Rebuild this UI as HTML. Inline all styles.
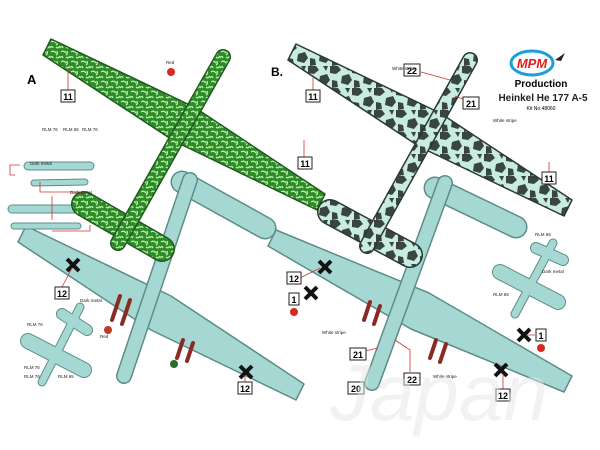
<!DOCTYPE html>
<html><head><style>
html,body{margin:0;padding:0;background:#fff}
svg{display:block}
text{font-family:"Liberation Sans",sans-serif}
</style></head><body>
<svg width="600" height="450" viewBox="0 0 600 450">
<defs>
<pattern id="grn" width="10" height="10" patternUnits="userSpaceOnUse">
<rect width="10" height="10" fill="#2f8a2a"/>
<path d="M1 2 q3 -2 5 1 M6 7 q2 2 4 -1 M0 8 q2 -3 3 0 M7 1 q1 3 -1 4" stroke="#b9f0a8" stroke-width="1.3" fill="none"/>
</pattern>
<pattern id="cam" width="22" height="22" patternUnits="userSpaceOnUse">
<rect width="22" height="22" fill="#c8ebe2"/>
<path d="M0 0 h8 l3 4 -5 4 -6 -1z M12 10 l7 -2 3 6 -4 5 -7 -2z M2 14 l5 1 1 6 -6 1z M15 0 h5 l-2 5z" fill="#38463f"/>
</pattern>
</defs>
<g stroke-linecap="round" stroke-linejoin="round">
<!-- light plane left -->
<g>
<polygon points="26,226 171,296 304,384 296,400 151,330 18,242" fill="#a6d8d3" stroke="#5c8c88" stroke-width="1.5"/>
<line x1="182" y1="182" x2="265" y2="228" stroke="#5c8c88" stroke-width="23"/>
<line x1="182" y1="182" x2="265" y2="228" stroke="#a6d8d3" stroke-width="20"/>
<line x1="190" y1="180" x2="124" y2="376" stroke="#5c8c88" stroke-width="16"/>
<line x1="190" y1="180" x2="124" y2="376" stroke="#a6d8d3" stroke-width="13"/>
<line x1="120" y1="296" x2="112" y2="320" stroke="#8a2a22" stroke-width="4"/>
<line x1="130" y1="300" x2="122" y2="324" stroke="#8a2a22" stroke-width="4"/>
<circle cx="108" cy="330" r="4" fill="#c0392b"/>
<line x1="183" y1="340" x2="177" y2="358" stroke="#8a2a22" stroke-width="4"/>
<line x1="193" y1="343" x2="187" y2="361" stroke="#8a2a22" stroke-width="4"/>
<circle cx="174" cy="364" r="4" fill="#2d6a2d"/>
</g>
<!-- light plane right -->
<g>
<polygon points="276,230 429,293 572,376 564,392 411,329 268,246" fill="#a6d8d3" stroke="#5c8c88" stroke-width="1.5"/>
<line x1="435" y1="188" x2="516" y2="227" stroke="#5c8c88" stroke-width="23"/>
<line x1="435" y1="188" x2="516" y2="227" stroke="#a6d8d3" stroke-width="20"/>
<line x1="445" y1="183" x2="372" y2="383" stroke="#5c8c88" stroke-width="16"/>
<line x1="445" y1="183" x2="372" y2="383" stroke="#a6d8d3" stroke-width="13"/>
<line x1="370" y1="302" x2="364" y2="320" stroke="#8a2a22" stroke-width="4"/>
<line x1="380" y1="306" x2="374" y2="324" stroke="#8a2a22" stroke-width="4"/>
<line x1="436" y1="340" x2="430" y2="358" stroke="#8a2a22" stroke-width="4"/>
<line x1="446" y1="344" x2="440" y2="362" stroke="#8a2a22" stroke-width="4"/>
</g>
<!-- small planes -->
<g stroke="#5c8c88">
<line x1="28" y1="341" x2="84" y2="370" stroke-width="16"/>
<line x1="62" y1="314" x2="87" y2="330" stroke-width="12"/>
<line x1="80" y1="307" x2="42" y2="382" stroke-width="9"/>
<line x1="500" y1="272" x2="558" y2="302" stroke-width="16"/>
<line x1="536" y1="248" x2="563" y2="260" stroke-width="12"/>
<line x1="553" y1="243" x2="515" y2="314" stroke-width="9"/>
<line x1="28" y1="166" x2="90" y2="166" stroke-width="9"/>
<line x1="34" y1="183" x2="85" y2="182" stroke-width="7"/>
<line x1="12" y1="209" x2="80" y2="209" stroke-width="9"/>
<line x1="14" y1="226" x2="78" y2="226" stroke-width="7"/>
</g>
<g stroke="#a6d8d3">
<line x1="28" y1="341" x2="84" y2="370" stroke-width="14"/>
<line x1="62" y1="314" x2="87" y2="330" stroke-width="10"/>
<line x1="80" y1="307" x2="42" y2="382" stroke-width="7"/>
<line x1="500" y1="272" x2="558" y2="302" stroke-width="14"/>
<line x1="536" y1="248" x2="563" y2="260" stroke-width="10"/>
<line x1="553" y1="243" x2="515" y2="314" stroke-width="7"/>
<line x1="28" y1="166" x2="90" y2="166" stroke-width="7"/>
<line x1="34" y1="183" x2="85" y2="182" stroke-width="5"/>
<line x1="12" y1="209" x2="80" y2="209" stroke-width="7"/>
<line x1="14" y1="226" x2="78" y2="226" stroke-width="5"/>
</g>
<!-- green plane -->
<g>
<polygon points="51,39 194,107 325,194 317,210 174,141 43,55" fill="url(#grn)" stroke="#1e5a1e" stroke-width="1.5"/>
<line x1="84" y1="204" x2="162" y2="249" stroke="#1e5a1e" stroke-width="26"/>
<line x1="84" y1="204" x2="162" y2="249" stroke="url(#grn)" stroke-width="23"/>
<line x1="223" y1="57" x2="118" y2="243" stroke="#1e5a1e" stroke-width="16"/>
<line x1="223" y1="57" x2="118" y2="243" stroke="url(#grn)" stroke-width="13"/>
<circle cx="171" cy="72" r="4" fill="#d9281e"/>
</g>
<!-- camo plane -->
<g>
<polygon points="296,44 440,113 572,200 564,216 420,147 288,60" fill="url(#cam)" stroke="#2b3832" stroke-width="1.5"/>
<line x1="330" y1="212" x2="410" y2="255" stroke="#2b3832" stroke-width="26"/>
<line x1="330" y1="212" x2="410" y2="255" stroke="url(#cam)" stroke-width="23"/>
<line x1="470" y1="60" x2="367" y2="246" stroke="#2b3832" stroke-width="16"/>
<line x1="470" y1="60" x2="367" y2="246" stroke="url(#cam)" stroke-width="13"/>
</g>
</g>
<!-- crosses -->
<g stroke="#111" stroke-width="4">
<path d="M67 259l12 12M79 259l-12 12"/>
<path d="M240 366l12 12M252 366l-12 12"/>
<path d="M319 261l12 12M331 261l-12 12"/>
<path d="M305 287l12 12M317 287l-12 12"/>
<path d="M518 329l12 12M530 329l-12 12"/>
<path d="M495 364l12 12M507 364l-12 12"/>
</g>
<circle cx="294" cy="312" r="4" fill="#d9281e"/>
<circle cx="541" cy="348" r="4" fill="#d9281e"/>
<!-- leader lines -->
<g stroke="#d0342c" stroke-width="0.8" fill="none">
<path d="M68 90V70M304 157V140M313 90V75M421 72L450 80M470 102L455 96M549 172V162M62 287L72 268M245 382V375M300 278L320 268M410 372V350L395 340M357 353L378 348M503 389V374M535 335L526 335"/>
<path d="M15 175H10V165H20M40 182V192H85M52 196V220M52 231H90V225"/>
</g>
<!-- number boxes -->
<g font-size="9" font-weight="bold" text-anchor="middle">
<g fill="#fff" stroke="#222" stroke-width="1">
<rect x="61" y="90" width="14" height="12"/><rect x="298" y="157" width="14" height="12"/>
<rect x="306" y="90" width="14" height="12"/><rect x="404" y="64" width="16" height="12"/>
<rect x="463" y="97" width="16" height="12"/><rect x="542" y="172" width="14" height="12"/>
<rect x="55" y="287" width="14" height="12"/><rect x="238" y="382" width="14" height="12"/>
<rect x="287" y="272" width="14" height="12"/><rect x="289" y="293" width="10" height="12"/>
<rect x="350" y="348" width="16" height="12"/><rect x="404" y="373" width="16" height="12"/>
<rect x="348" y="382" width="16" height="12"/><rect x="496" y="389" width="14" height="12"/>
<rect x="536" y="329" width="10" height="12"/>
</g>
<text x="68" y="100">11</text><text x="305" y="167">11</text><text x="313" y="100">11</text>
<text x="412" y="74">22</text><text x="471" y="107">21</text><text x="549" y="182">11</text>
<text x="62" y="297">12</text><text x="245" y="392">12</text><text x="294" y="282">12</text>
<text x="294" y="303">1</text><text x="358" y="358">21</text><text x="412" y="383">22</text>
<text x="356" y="392">20</text><text x="503" y="399">12</text><text x="541" y="339">1</text>
</g>
<g font-size="4.5" fill="#222">
<text x="166" y="64">Red</text><text x="392" y="70">White stripe</text><text x="493" y="122">White stripe</text>
<text x="322" y="334">White stripe</text><text x="433" y="378">White stripe</text><text x="100" y="338">Red</text>
<text x="42" y="131">RLM 76</text><text x="63" y="131">RLM 65</text><text x="82" y="131">RLM 76</text>
<text x="30" y="165">Dark metal</text><text x="70" y="194">Dark metal</text>
<text x="80" y="302">Dark metal</text><text x="27" y="326">RLM 76</text><text x="24" y="369">RLM 76</text><text x="24" y="378">RLM 76</text><text x="58" y="378">RLM 65</text>
<text x="535" y="236">RLM 65</text><text x="542" y="273">Dark metal</text><text x="493" y="296">RLM 65</text>
</g>
<text x="27" y="84" font-size="13" font-weight="bold">A</text>
<text x="271" y="76" font-size="12" font-weight="bold">B.</text>
<!-- logo -->
<ellipse cx="532" cy="63" rx="21" ry="12" fill="#fff" stroke="#1aa0d8" stroke-width="3"/>
<text x="532" y="68" font-size="13" font-style="italic" font-weight="bold" fill="#e02020" text-anchor="middle">MPM</text>
<path d="M555 60l10 -7 -4 8z" fill="#222"/>
<text x="541" y="87" font-size="10" font-weight="bold" font-family="Liberation Serif" text-anchor="middle">Production</text>
<text x="543" y="101" font-size="10" font-weight="bold" text-anchor="middle" fill="#222">Heinkel He 177 A-5</text>
<text x="541" y="110" font-size="5" text-anchor="middle">Kit No.48060</text>
<text x="330" y="420" font-size="80" font-style="italic" fill="#e6e6e6" opacity="0.5">Japan</text>
</svg>
</body></html>
